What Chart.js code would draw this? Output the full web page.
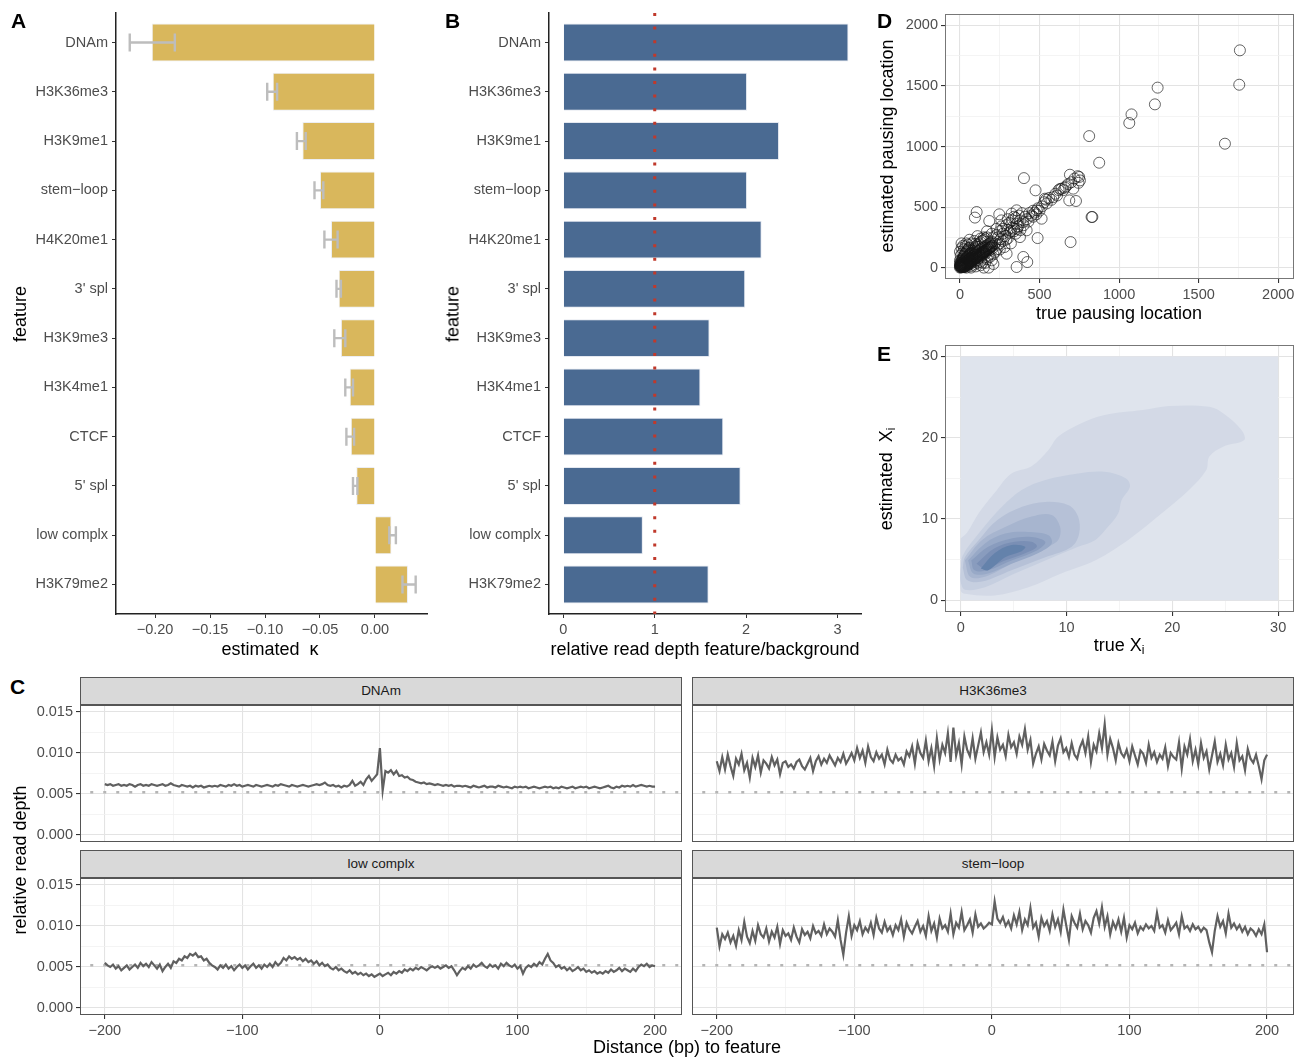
<!DOCTYPE html>
<html>
<head>
<meta charset="utf-8">
<script src="https://cdn.jsdelivr.net/npm/chart.js@4.4.1/dist/chart.umd.min.js"></script>
<style>
  body { margin: 0; background: #fff; width: 1302px; height: 1057px; position: relative; overflow: hidden;
         font-family: 'Liberation Sans', Arial, Helvetica, sans-serif; }
  canvas { position: absolute; }
  .lbl { position: absolute; white-space: nowrap; color: #000; }
  .letter { font-weight: bold; font-size: 21px; line-height: 21px; }
  .title { font-size: 18px; transform: translate(-50%, -50%); }
  .ytitle { font-size: 18px; transform: translate(-50%, -50%) rotate(-90deg); }
  .ytitle sub, .title sub { font-size: 12px; vertical-align: -3px; }
  .strip { position: absolute; background: #d9d9d9; border: 1px solid #555; box-sizing: border-box;
           font-size: 13.5px; color: #1a1a1a; text-align: center; line-height: 26px; }
</style>
</head>
<body>
<canvas id="chartA" width="440" height="640" style="left:0;top:0"></canvas>
<canvas id="chartB" width="430" height="640" style="left:440px;top:0"></canvas>
<canvas id="chartD" width="432" height="330" style="left:870px;top:0"></canvas>
<canvas id="chartE" width="432" height="330" style="left:870px;top:330px"></canvas>
<canvas id="facetDNAm" width="690" height="150" style="left:0;top:700px"></canvas>
<canvas id="facetH3K36" width="612" height="150" style="left:690px;top:700px"></canvas>
<canvas id="facetLow" width="690" height="184" style="left:0;top:873px"></canvas>
<canvas id="facetStem" width="612" height="184" style="left:690px;top:873px"></canvas>

<div class="lbl letter" style="left:11px;top:10px">A</div>
<div class="lbl letter" style="left:445px;top:10px">B</div>
<div class="lbl letter" style="left:877px;top:10px">D</div>
<div class="lbl letter" style="left:877px;top:343px">E</div>
<div class="lbl letter" style="left:10px;top:676px">C</div>

<div class="lbl title" style="left:270px;top:649px">estimated&nbsp; κ</div>
<div class="lbl ytitle" style="left:20px;top:314px">feature</div>
<div class="lbl title" style="left:705px;top:649px">relative read depth feature/background</div>
<div class="lbl ytitle" style="left:453px;top:314px">feature</div>
<div class="lbl title" style="left:1119px;top:313px">true pausing location</div>
<div class="lbl ytitle" style="left:887px;top:146px">estimated pausing location</div>
<div class="lbl title" style="left:1119px;top:646px">true X<sub>i</sub></div>
<div class="lbl ytitle" style="left:887px;top:479px">estimated&nbsp; X<sub>i</sub></div>
<div class="lbl ytitle" style="left:20px;top:860px">relative read depth</div>
<div class="lbl title" style="left:687px;top:1047px">Distance (bp) to feature</div>

<div class="strip" style="left:80px;top:677px;width:602px;height:28px">DNAm</div>
<div class="strip" style="left:692px;top:677px;width:602px;height:28px">H3K36me3</div>
<div class="strip" style="left:80px;top:850px;width:602px;height:28px">low complx</div>
<div class="strip" style="left:692px;top:850px;width:602px;height:28px">stem−loop</div>

<script>
// ---- panel A / B data ----
const features = ['DNAm', 'H3K36me3', 'H3K9me1', 'stem\u2212loop', 'H4K20me1', "3' spl",
                  'H3K9me3', 'H3K4me1', 'CTCF', "5' spl", 'low complx', 'H3K79me2'];
const kappaEst  = [-0.203, -0.093, -0.066, -0.050, -0.040, -0.033, -0.031, -0.023, -0.022, -0.017, 0.015, 0.030];
const kappaLow  = [-0.223, -0.098, -0.071, -0.055, -0.046, -0.035, -0.037, -0.027, -0.026, -0.020, 0.013, 0.025];
const kappaHigh = [-0.182, -0.089, -0.063, -0.047, -0.034, -0.031, -0.027, -0.020, -0.019, -0.016, 0.019, 0.037];
const kappaTicks = [-0.20, -0.15, -0.10, -0.05, 0.00];
const depthRatio = [3.12, 2.01, 2.36, 2.01, 2.17, 1.99, 1.60, 1.50, 1.75, 1.94, 0.87, 1.59];
const depthTicks = [0, 1, 2, 3];
const depthReference = 1;

// ---- panel D data: [true, estimated] pausing location ----
const pausingLoc = [
  [1759, 1794], [1755, 1510], [1242, 1486], [1225, 1348], [1078, 1265], [1064, 1194], [1665, 1023],
  [812, 1086], [875, 866], [402, 739], [691, 767], [749, 748], [754, 720], [712, 652], [639, 652],
  [586, 582], [534, 569], [475, 638], [687, 555], [729, 550], [827, 418], [832, 418], [695, 211],
  [488, 244], [398, 88], [356, 5], [423, 46], [105, 459], [94, 413], [184, 385], [247, 440],
  [325, 446], [356, 473], [482, 473], [293, 115], [377, 252], [419, 308], [540, 561], [513, 404],
  [620, 640], [660, 660],
  [200, 215], [220, 200], [240, 250], [255, 235], [270, 280], [285, 260], [300, 310], [310, 290],
  [325, 330], [340, 320], [355, 360], [365, 340], [380, 390], [395, 375], [410, 420], [420, 400],
  [435, 450], [450, 430], [460, 470], [470, 455], [490, 490], [500, 470], [515, 505], [530, 540],
  [545, 530], [560, 575], [575, 560], [600, 610], [610, 595], [630, 650], [650, 640], [665, 670],
  [680, 690], [700, 705], [720, 735], [740, 755], [745, 700],
  [230, 320], [260, 340], [300, 240], [320, 200], [350, 280], [280, 170], [250, 150], [220, 130],
  [180, 100], [300, 400], [340, 420], [260, 390], [380, 310], [200, 280], [150, 250], [170, 300],
  [130, 240], [90, 220], [110, 260], [60, 230], [40, 200], [20, 180], [10, 160], [5, 100], [0, 60],
  [0, 130], [15, 40], [40, 0], [70, 0], [100, 10], [130, 20], [150, 0], [160, 40], [200, 60],
  [210, 30], [180, 0], [130, 50],
  [0, 0], [3, 8], [6, 2], [9, 14], [12, 5], [2, 20], [15, 18], [18, 9], [5, 30], [21, 24], [24, 12],
  [8, 40], [27, 32], [30, 18], [11, 50], [33, 38], [36, 24], [14, 60], [39, 45], [42, 30], [17, 70],
  [45, 52], [48, 36], [20, 80], [51, 60], [54, 42], [23, 90], [57, 66], [60, 48], [26, 100], [63, 72],
  [66, 55], [30, 110], [69, 80], [72, 60], [35, 120], [75, 88], [78, 66], [40, 130], [81, 95], [84, 72],
  [45, 140], [87, 102], [90, 78], [50, 150], [93, 110], [96, 85], [55, 160], [99, 118], [102, 92],
  [60, 165], [105, 125], [108, 98], [115, 135], [120, 110], [125, 145], [130, 118], [135, 155],
  [140, 128], [145, 165], [150, 135], [155, 172], [160, 145], [165, 180], [170, 152], [175, 190],
  [180, 160], [185, 198], [190, 170], [195, 205], [200, 180],
  [50, 20], [70, 35], [90, 50], [110, 60], [60, 100], [80, 120], [100, 140], [120, 80], [140, 100],
  [160, 115], [25, 55], [35, 70], [45, 85], [10, 25], [20, 35], [30, 5], [0, 15], [0, 35], [5, 55],
  [65, 10], [85, 25], [75, 115], [95, 150], [115, 170], [125, 90], [145, 120], [165, 130], [185, 145],
  [205, 160],
  [8, 5], [14, 3], [4, 12], [10, 18], [16, 10], [22, 4], [28, 8], [6, 22], [12, 30], [18, 26], [26, 16],
  [32, 10], [38, 16], [44, 20], [52, 28], [58, 34], [64, 40], [70, 46], [76, 52], [82, 58], [88, 64],
  [94, 70], [100, 76], [106, 82], [112, 88], [118, 94], [124, 100], [130, 106], [136, 112], [142, 118],
  [148, 124], [154, 130], [160, 136], [166, 142], [172, 148], [178, 154], [184, 160], [190, 166],
  [196, 172], [202, 178], [20, 45], [30, 60], [40, 75], [50, 90], [60, 110], [70, 125], [80, 140],
  [90, 160], [100, 175], [110, 190], [120, 200], [130, 210], [140, 220], [150, 230], [160, 240],
  [170, 250], [25, 150], [35, 175], [15, 120], [10, 200], [50, 190], [75, 200], [95, 195], [110, 40],
  [140, 40], [170, 70], [190, 90], [210, 110], [230, 150], [240, 190], [250, 200], [270, 220],
  [290, 230], [210, 250], [230, 270], [250, 300], [270, 320], [290, 350], [310, 370], [330, 390],
  [350, 410], [370, 430], [390, 450], [320, 300], [340, 300], [360, 320], [400, 350], [430, 380],
  [460, 420], [480, 440]
];
const pausingTicks = [0, 500, 1000, 1500, 2000];
const pausingMinor = [250, 750, 1250, 1750];

// ---- panel E data: 2d density contour rings (true Xi, estimated Xi) ----
const plotSquare = [[0, 0], [30, 0], [30, 30], [0, 30], [0, 0]];
const densityLevel1 = [[0, 7.6], [0.6, 8.3], [1.7, 10.7], [3.2, 13.2], [4.8, 15.6], [6.7, 16.5], [8.3, 18.5],
  [9.2, 20.1], [11.1, 21.6], [13.6, 22.8], [17.2, 23.4], [19.7, 23.9], [23.5, 23.8], [24.8, 23.0],
  [26.5, 21.0], [26.8, 19.7], [24.8, 18.9], [23.5, 17.7], [23.2, 16.0], [21.6, 13.6], [19.0, 10.7],
  [15.8, 7.4], [12.7, 4.9], [9.5, 3.3], [6.4, 1.6], [3.2, 0.6], [0.4, 0.8], [0, 1.2], [0, 4.4]];
const densityLevel2 = [[0, 3.7], [0.2, 5.5], [1.7, 8.2], [3.9, 11.5], [5.8, 13.6], [8.0, 14.8], [11.1, 15.6],
  [13.6, 15.8], [15.6, 15.0], [16.0, 14.0], [15.2, 12.3], [14.9, 10.7], [13.9, 9.0], [12.7, 7.4],
  [11.1, 6.6], [8.0, 4.9], [4.8, 3.1], [2.3, 1.6], [0.4, 1.3], [0, 2.3]];
const densityLevel3 = [[0.2, 4.0], [0.4, 5.3], [1.7, 7.4], [3.5, 9.9], [5.8, 11.5], [8.0, 12.1], [10.2, 11.7],
  [11.1, 10.3], [11.2, 8.2], [10.5, 6.6], [8.0, 5.3], [4.8, 3.7], [2.0, 2.3], [0.6, 2.5]];
const densityLevel4 = [[0.4, 4.9], [2.0, 7.4], [4.2, 9.0], [6.7, 10.3], [8.6, 10.5], [9.4, 9.0], [9.2, 7.4],
  [7.6, 6.2], [4.8, 4.5], [2.3, 2.9], [0.9, 2.9]];
const densityLevel5 = [[0.7, 4.9], [2.3, 7.0], [4.2, 8.2], [6.4, 8.4], [8.3, 8.0], [8.6, 7.0], [7.3, 5.8],
  [4.8, 4.5], [2.6, 3.3], [1.2, 3.3]];
const densityLevel6 = [[1.0, 4.9], [2.6, 6.6], [4.8, 7.6], [6.7, 7.8], [8.0, 7.2], [7.3, 6.2], [4.8, 4.9],
  [2.6, 3.7], [1.3, 3.7]];
const densityLevel7 = [[1.5, 4.5], [3.2, 6.4], [5.1, 7.2], [6.7, 7.2], [7.2, 6.6], [6.1, 5.8], [4.2, 4.9], [2.3, 3.9]];
const densityLevel8 = [[1.9, 3.9], [3.2, 5.8], [4.8, 6.8], [6.1, 6.6], [5.7, 6.0], [4.2, 5.3], [2.6, 3.7]];
const densityFills = ['#dfe4ed', '#d3d9e6', '#c6cfe0', '#b6c1d7', '#a7b5cf', '#98a9c7', '#899cbe', '#7a8fb5', '#6482ab'];
const xiTicks = [0, 10, 20, 30];
const xiMinor = [5, 15, 25];

// ---- panel C data: relative read depth, -200..200 bp in steps of 2 ----
const depthDNAm = [
  .0062, .0061, .0062, .0060, .0061, .0062, .0060, .0061, .0060, .0062, .0061, .0059, .0061, .0062, .0060, .0061, .0060, .0062, .0061, .0060,
  .0061, .0062, .0060, .0061, .0063, .0061, .0060, .0059, .0061, .0060, .0059, .0060, .0058, .0060, .0059, .0060, .0058, .0059, .0060, .0059,
  .0060, .0059, .0061, .0060, .0059, .0061, .0060, .0062, .0060, .0061, .0059, .0060, .0061, .0060, .0059, .0061, .0060, .0059, .0060, .0061,
  .0060, .0059, .0061, .0060, .0062, .0061, .0060, .0059, .0061, .0060, .0059, .0060, .0061, .0060, .0059, .0060, .0061, .0062, .0061, .0062,
  .0064, .0061, .0060, .0061, .0059, .0060, .0058, .0060, .0059, .0061, .0066, .0060, .0062, .0065, .0061, .0068, .0072, .0066, .0070, .0074,
  .0106,
  .0054, .0078, .0076, .0079, .0074, .0078, .0072, .0073, .0070, .0071, .0068, .0067, .0065, .0064, .0063, .0064, .0062, .0063, .0062, .0061,
  .0062, .0061, .0060, .0061, .0060, .0061, .0059, .0060, .0060, .0059, .0060, .0059, .0058, .0060, .0059, .0058, .0059, .0060, .0058, .0059,
  .0059, .0058, .0060, .0059, .0058, .0059, .0058, .0057, .0059, .0058, .0059, .0058, .0059, .0057, .0058, .0059, .0058, .0057, .0058, .0059,
  .0058, .0059, .0057, .0058, .0057, .0059, .0058, .0057, .0058, .0059, .0057, .0058, .0059, .0058, .0059, .0057, .0058, .0059, .0058, .0057,
  .0058, .0059, .0060, .0058, .0057, .0059, .0058, .0060, .0059, .0060, .0059, .0061, .0059, .0060, .0061, .0060, .0059, .0060, .0059, .0059
];
const depthH3K36me3 = [
  .0090, .0078, .0095, .0080, .0098, .0084, .0072, .0093, .0086, .0099, .0079, .0088, .0070, .0094, .0083, .0097, .0076, .0091, .0087, .0081,
  .0095, .0085, .0092, .0074, .0088, .0090, .0083, .0086, .0081, .0089, .0092, .0084, .0080, .0087, .0094, .0078, .0090, .0096, .0086, .0093,
  .0088, .0097, .0091, .0085, .0094, .0089, .0099, .0087, .0093, .0100, .0091, .0106, .0094, .0103, .0088, .0108, .0095, .0090, .0101, .0093,
  .0098, .0086, .0104, .0092, .0088, .0098, .0091, .0094, .0086, .0102, .0096, .0108, .0087, .0112, .0100, .0094, .0115, .0090, .0106, .0084,
  .0118, .0092, .0110, .0100, .0124, .0089, .0131, .0097, .0112, .0086, .0120, .0104, .0096, .0118, .0093, .0109, .0125, .0101, .0113, .0098,
  .0128,
  .0095, .0119, .0104, .0110, .0096, .0122, .0107, .0113, .0099, .0120, .0110, .0129, .0104, .0116, .0087, .0099, .0108, .0092, .0111, .0103,
  .0097, .0114, .0090, .0109, .0118, .0101, .0106, .0095, .0112, .0098, .0093, .0107, .0115, .0100, .0120, .0089, .0110, .0102, .0124, .0106,
  .0135, .0098, .0117, .0106, .0091, .0112, .0100, .0095, .0104, .0090, .0108, .0097, .0086, .0103, .0099, .0088, .0110, .0094, .0101, .0089,
  .0098, .0093, .0107, .0084, .0100, .0095, .0092, .0113, .0081, .0108, .0098, .0117, .0090, .0104, .0086, .0112, .0094, .0102, .0080, .0097,
  .0114, .0089, .0099, .0085, .0110, .0092, .0100, .0083, .0112, .0091, .0096, .0079, .0105, .0093, .0088, .0098, .0084, .0068, .0091, .0098
];
const depthLowComplx = [
  .0055, .0052, .0050, .0053, .0048, .0051, .0046, .0049, .0052, .0047, .0050, .0053, .0049, .0055, .0051, .0054, .0050, .0056, .0052, .0048,
  .0053, .0045, .0050, .0054, .0049, .0057, .0055, .0060, .0058, .0063, .0061, .0066, .0064, .0067, .0062, .0063, .0058, .0060, .0055, .0052,
  .0050, .0047, .0052, .0049, .0053, .0048, .0051, .0046, .0050, .0053, .0049, .0052, .0047, .0051, .0054, .0049, .0052, .0048, .0053, .0050,
  .0054, .0050, .0056, .0052, .0055, .0061, .0058, .0063, .0060, .0062, .0059, .0061, .0057, .0060, .0056, .0058, .0054, .0057, .0052, .0055,
  .0051, .0053, .0049, .0047, .0050, .0046, .0048, .0045, .0043, .0046, .0042, .0044, .0041, .0043, .0040, .0042, .0039, .0041, .0038, .0040,
  .0042, .0039, .0041, .0043, .0040, .0044, .0042, .0045, .0043, .0047, .0045, .0048, .0046, .0049, .0047, .0050, .0048, .0046, .0049, .0051,
  .0049, .0051, .0048, .0050, .0052, .0049, .0051, .0046, .0040, .0045, .0049, .0047, .0051, .0048, .0053, .0050, .0052, .0055, .0051, .0049,
  .0053, .0050, .0052, .0048, .0054, .0051, .0055, .0052, .0050, .0053, .0048, .0051, .0042, .0049, .0052, .0050, .0054, .0051, .0056, .0053,
  .0060, .0066, .0058, .0055, .0050, .0052, .0048, .0050, .0046, .0049, .0045, .0047, .0050, .0046, .0048, .0044, .0046, .0043, .0045, .0042,
  .0044, .0042, .0045, .0043, .0047, .0044, .0046, .0049, .0045, .0048, .0046, .0044, .0048, .0045, .0050, .0053, .0051, .0054, .0050, .0052, .0051
];
const depthStemLoop = [
  .0098, .0075, .0090, .0084, .0092, .0080, .0088, .0076, .0095, .0083, .0105, .0087, .0079, .0094, .0082, .0101, .0090, .0086, .0097, .0081,
  .0093, .0086, .0099, .0078, .0095, .0088, .0091, .0083, .0098, .0087, .0080, .0096, .0089, .0093, .0085, .0100, .0091, .0094, .0088, .0102,
  .0090, .0097, .0093, .0087, .0107, .0083, .0065, .0092, .0112, .0088, .0101, .0095, .0106, .0090, .0098, .0093, .0104, .0089, .0110, .0097,
  .0092, .0105, .0094, .0099, .0089, .0101, .0095, .0108, .0087, .0104, .0096, .0091, .0099, .0106, .0093, .0100, .0088, .0112, .0094, .0103,
  .0086, .0109, .0097, .0101, .0093, .0115, .0090, .0104, .0098, .0117, .0095, .0101, .0108, .0092, .0114, .0099, .0103, .0097, .0100, .0104,
  .0102, .0130, .0109, .0104, .0111, .0100, .0106, .0097, .0113, .0102, .0117, .0095, .0108, .0101, .0122, .0098, .0104, .0087, .0110, .0100,
  .0106, .0094, .0114, .0099, .0108, .0093, .0120, .0101, .0083, .0112, .0104, .0098, .0115, .0096, .0106, .0101, .0092, .0110, .0118, .0103,
  .0123, .0099, .0112, .0090, .0105, .0097, .0108, .0093, .0110, .0086, .0101, .0096, .0104, .0091, .0099, .0095, .0102, .0097, .0100, .0094,
  .0116, .0098, .0101, .0092, .0107, .0095, .0099, .0104, .0090, .0112, .0097, .0100, .0094, .0102, .0096, .0099, .0093, .0098, .0095, .0080,
  .0068, .0094, .0112, .0099, .0106, .0091, .0115, .0098, .0103, .0096, .0101, .0093, .0099, .0090, .0097, .0094, .0088, .0096, .0090, .0102, .0068
];
const backgroundDepth = 0.0052;
const distanceTicks = [-200, -100, 0, 100, 200];
const distanceMinor = [-150, -50, 50, 150];
const readDepthTicks = [0, 0.005, 0.010, 0.015];
const readDepthMinor = [0.0025, 0.0075, 0.0125];

// positions along the feature window
const distance = [];
for (let d = -200; d <= 200; d += 2) distance.push(d);

// ---- shared styling ----
const FONT = "'Liberation Sans', Arial, Helvetica, sans-serif";
Chart.defaults.font.family = FONT;
Chart.defaults.font.size = 14.5;
Chart.defaults.color = '#4d4d4d';

const tickFont = { family: FONT, size: 14.5 };
const noPlugins = { legend: { display: false }, tooltip: { enabled: false } };

function fixedTicks(values, minor) {
  return function (scale) {
    const t = values.map(v => ({ value: v }));
    (minor || []).forEach(v => t.push({ value: v, minor: true }));
    scale.ticks = t;
  };
}
// fixed axis sizes; label overhang must not push the plot area around
const fixWidth = w => s => { s.width = w; s.paddingTop = 0; s.paddingBottom = 0; };
const fixHeight = h => s => { s.height = h; s.paddingLeft = 0; s.paddingRight = 0; };
const gridColor = c => (c.tick && c.tick.minor) ? '#f1f1f1' : '#e3e3e3';
const gridWidth = c => (c.tick && c.tick.minor) ? 0.8 : 1.1;
const tickMarkColor = c => (c.tick && c.tick.minor) ? 'rgba(0,0,0,0)' : '#333';

function panelBorder(color) {
  return {
    id: 'panelBorder',
    afterDatasetsDraw(chart) {
      const a = chart.chartArea, ctx = chart.ctx;
      ctx.save();
      ctx.strokeStyle = color;
      ctx.lineWidth = 1;
      ctx.strokeRect(a.left + 0.5, a.top + 0.5, a.right - a.left - 1, a.bottom - a.top - 1);
      ctx.restore();
    }
  };
}

// grey error bars for the kappa estimates
const errorBars = {
  id: 'errorBars',
  afterDatasetsDraw(chart) {
    const xs = chart.scales.x, ys = chart.scales.y, ctx = chart.ctx;
    ctx.save();
    ctx.strokeStyle = '#bdbdbd';
    ctx.lineWidth = 2.4;
    kappaLow.forEach((lo, i) => {
      const x1 = xs.getPixelForValue(lo);
      const x2 = xs.getPixelForValue(kappaHigh[i]);
      const y = ys.getPixelForValue(i);
      ctx.beginPath();
      ctx.moveTo(x1, y); ctx.lineTo(x2, y);
      ctx.moveTo(x1, y - 9); ctx.lineTo(x1, y + 9);
      ctx.moveTo(x2, y - 9); ctx.lineTo(x2, y + 9);
      ctx.stroke();
    });
    ctx.restore();
  }
};

// feature axis shared by A and B
function featureAxis(width) {
  return {
    type: 'linear', reverse: true, min: -0.6, max: 11.6, offset: false,
    afterBuildTicks: fixedTicks(features.map((_, i) => i)),
    afterFit: fixWidth(width),
    ticks: { callback: v => features[v], font: tickFont, color: '#4d4d4d', padding: 4, autoSkip: false },
    grid: { drawOnChartArea: false, offset: false, tickLength: 4, tickColor: '#333' },
    border: { color: '#222', width: 1.5 }
  };
}

// ---- A: estimated kappa ----
new Chart(document.getElementById('chartA'), {
  type: 'bar',
  data: {
    datasets: [{
      data: kappaEst.map((v, i) => ({ x: v, y: i })),
      backgroundColor: '#d9b75c', borderColor: '#eceef3', borderWidth: 1,
      barPercentage: 0.77, categoryPercentage: 1
    }]
  },
  options: {
    indexAxis: 'y', responsive: false, animation: false,
    layout: { padding: { top: 13, right: 13, left: 0, bottom: 0 }, autoPadding: false },
    plugins: noPlugins,
    scales: {
      x: {
        type: 'linear', min: -0.2355, max: 0.0473,
        afterBuildTicks: fixedTicks(kappaTicks), afterFit: fixHeight(26),
        ticks: { callback: v => v.toFixed(2).replace('-', '\u2212'), font: tickFont, color: '#4d4d4d', padding: 3, maxRotation: 0, autoSkip: false },
        grid: { drawOnChartArea: false, tickLength: 4, tickColor: '#333' },
        border: { color: '#222', width: 1.5 }
      },
      y: featureAxis(116)
    }
  },
  plugins: [errorBars]
});

// ---- B: relative read depth at features ----
new Chart(document.getElementById('chartB'), {
  type: 'bar',
  data: {
    datasets: [{
      data: depthRatio.map((v, i) => ({ x: v, y: i })),
      backgroundColor: '#4a6a92', borderColor: '#e4e8f0', borderWidth: 1,
      barPercentage: 0.77, categoryPercentage: 1, order: 1
    }, {
      type: 'line',
      data: [{ x: depthReference, y: -0.6 }, { x: depthReference, y: 11.6 }],
      borderColor: '#c0392b', borderWidth: 3, borderDash: [3, 10.6], pointRadius: 0, order: 0
    }]
  },
  options: {
    indexAxis: 'y', responsive: false, animation: false,
    layout: { padding: { top: 13, right: 9, left: 0, bottom: 0 }, autoPadding: false },
    plugins: noPlugins,
    scales: {
      x: {
        type: 'linear', min: -0.157, max: 3.257,
        afterBuildTicks: fixedTicks(depthTicks), afterFit: fixHeight(26),
        ticks: { callback: v => String(v), font: tickFont, color: '#4d4d4d', padding: 3, maxRotation: 0, autoSkip: false },
        grid: { drawOnChartArea: false, tickLength: 4, tickColor: '#333' },
        border: { color: '#222', width: 1.5 }
      },
      y: featureAxis(109)
    }
  }
});

// box-style axis for D and E
function boxAxis(min, max, major, minor, fit) {
  return {
    type: 'linear', min: min, max: max,
    afterBuildTicks: fixedTicks(major, minor), afterFit: fit,
    ticks: { callback: (v, i, t) => t[i].minor ? '' : String(v), font: tickFont, color: '#4d4d4d',
             padding: 3, maxRotation: 0, autoSkip: false },
    grid: { color: gridColor, lineWidth: gridWidth, tickLength: 4, tickColor: tickMarkColor },
    border: { display: false }
  };
}

// ---- D: pausing location scatter ----
new Chart(document.getElementById('chartD'), {
  type: 'scatter',
  data: {
    datasets: [{
      data: pausingLoc.map(p => ({ x: p[0], y: p[1] })),
      pointRadius: 5.5, pointBackgroundColor: 'rgba(0,0,0,0)',
      pointBorderColor: 'rgba(20,20,20,0.65)', pointBorderWidth: 1
    }]
  },
  options: {
    responsive: false, animation: false,
    layout: { padding: { top: 14, right: 8, left: 0, bottom: 0 }, autoPadding: false },
    plugins: noPlugins,
    scales: {
      x: boxAxis(-94, 2099, pausingTicks, pausingMinor, fixHeight(51)),
      y: boxAxis(-94, 2094, pausingTicks, pausingMinor, fixWidth(75))
    }
  },
  plugins: [panelBorder('#777')]
});

// ---- E: density of estimated vs true Xi ----
const toPoints = ring => ring.map(p => ({ x: p[0], y: p[1] }));
const densityLevels = [densityLevel1, densityLevel2, densityLevel3, densityLevel4,
                       densityLevel5, densityLevel6, densityLevel7, densityLevel8];
const shapeStyle = { fill: 'shape', pointRadius: 0, borderWidth: 0, borderColor: 'rgba(0,0,0,0)' };
const datasetsE = [Object.assign({ data: toPoints(plotSquare), backgroundColor: densityFills[0], tension: 0, order: 20 }, shapeStyle)]
  .concat(densityLevels.map((ring, k) => Object.assign({
    data: toPoints(ring.concat([ring[0]])), backgroundColor: densityFills[k + 1], tension: 0.35, order: 10 - k
  }, shapeStyle)));

new Chart(document.getElementById('chartE'), {
  type: 'line',
  data: { datasets: datasetsE },
  options: {
    responsive: false, animation: false,
    layout: { padding: { top: 15, right: 8, left: 0, bottom: 0 }, autoPadding: false },
    plugins: noPlugins,
    scales: {
      x: boxAxis(-1.48, 31.5, xiTicks, xiMinor, fixHeight(48)),
      y: boxAxis(-1.44, 31.4, xiTicks, xiMinor, fixWidth(75))
    }
  },
  plugins: [panelBorder('#777')]
});

// ---- C: read depth around features, one facet per feature ----
function drawFacet(id, series, showX, showY, height) {
  new Chart(document.getElementById(id), {
    type: 'line',
    data: {
      datasets: [{
        data: distance.map((d, i) => ({ x: d, y: series[i] })),
        borderColor: '#606060', borderWidth: 2.2, pointRadius: 0, tension: 0, order: 0
      }, {
        data: [{ x: -220, y: backgroundDepth }, { x: 220, y: backgroundDepth }],
        borderColor: '#b5b5b5', borderWidth: 2.5, borderDash: [3, 10], pointRadius: 0, order: 1
      }]
    },
    options: {
      responsive: false, animation: false,
      layout: { padding: { top: 5, right: 8, left: showY ? 0 : 2, bottom: 0 }, autoPadding: false },
      plugins: noPlugins,
      scales: {
        x: {
          type: 'linear', min: -218, max: 219.6,
          afterBuildTicks: fixedTicks(distanceTicks, distanceMinor),
          afterFit: fixHeight(showX ? height - 142 : 8),
          ticks: { display: showX, callback: (v, i, t) => t[i].minor ? '' : String(v).replace('-', '\u2212'),
                   font: tickFont, color: '#4d4d4d', padding: 3, maxRotation: 0, autoSkip: false },
          grid: { color: gridColor, lineWidth: gridWidth, drawTicks: showX, tickLength: 4, tickColor: tickMarkColor },
          border: { display: false }
        },
        y: {
          type: 'linear', min: -0.00085, max: 0.01585,
          afterBuildTicks: fixedTicks(readDepthTicks, readDepthMinor),
          afterFit: fixWidth(showY ? 80 : 0),
          ticks: { display: showY, callback: (v, i, t) => t[i].minor ? '' : v.toFixed(3),
                   font: tickFont, color: '#4d4d4d', padding: 3, autoSkip: false },
          grid: { color: gridColor, lineWidth: gridWidth, drawTicks: showY, tickLength: 4, tickColor: tickMarkColor },
          border: { display: false }
        }
      }
    },
    plugins: [panelBorder('#555')]
  });
}

drawFacet('facetDNAm', depthDNAm, false, true, 150);
drawFacet('facetH3K36', depthH3K36me3, false, false, 150);
drawFacet('facetLow', depthLowComplx, true, true, 184);
drawFacet('facetStem', depthStemLoop, true, false, 184);
</script>
</body>
</html>
